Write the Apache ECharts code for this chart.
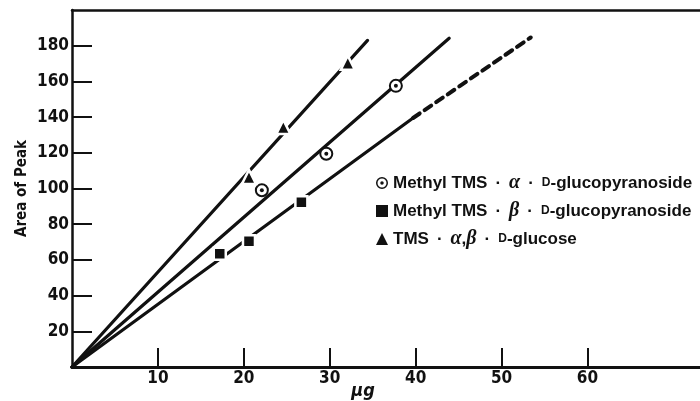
<!DOCTYPE html>
<html>
<head>
<meta charset="utf-8">
<script src="https://cdn.jsdelivr.net/npm/echarts@6/dist/echarts.min.js"></script>
<style>
  html, body { margin: 0; padding: 0; background: #fff; }
  #chart { width: 700px; height: 401px; }
</style>
</head>
<body>
<div id="chart"></div>
<script>
// Tick values
const xTickValues = [10, 20, 30, 40, 50, 60];
const yTickValues = [20, 40, 60, 80, 100, 120, 140, 160, 180];

// Legend names
const alphaName = "Methyl TMS · α · D-glucopyranoside";
const betaName = "Methyl TMS · β · D-glucopyranoside";
const glucoseName = "TMS · α,β · D-glucose";

// Measured points [µg, area]
const alphaPoints = [[22.1, 99], [29.6, 119.5], [37.7, 157.5]];
const betaPoints = [[17.2, 63.5], [20.6, 70.5], [26.7, 92.3]];
const glucosePoints = [[20.6, 106.5], [24.6, 134.5], [32.1, 170.5]];

// Calibration lines
const alphaFit = [[0, 0], [43.9, 184.2]];
const betaFit = [[0, 0], [39.7, 139.5]];
const betaFitExtended = [[39.7, 139.5], [53.4, 184.6]];
const glucoseFit = [[0, 0], [34.4, 183]];

const narrow = "'DejaVu Sans Condensed', 'Liberation Sans Narrow', sans-serif";
const ink = "#111";

// Funzione per una linea di calibrazione
function fitLine(data, dashed) {
  return {
    type: "line",
    data,
    symbol: "none",
    silent: true,
    z: 2,
    lineStyle: { color: ink, width: dashed ? 4 : 3.2, type: dashed ? [8, 6] : "solid", cap: "round" }
  };
}

const ringDot = "path://M12,0A12,12,0,1,1,11.99,0Z M12,3A9,9,0,1,0,12.01,3Z M12,8.5A3.5,3.5,0,1,1,11.99,8.5Z";

const chart = echarts.init(document.getElementById("chart"));
chart.setOption({
  animation: false,
  grid: { left: 72, right: 0, top: 10, bottom: 34, outerBoundsMode: "none" },
  legend: {
    orient: "vertical",
    left: 371,
    top: 168,
    itemWidth: 12,
    itemHeight: 12,
    itemGap: 8,
    itemStyle: { borderWidth: 0 },
    data: [
      { name: alphaName, icon: ringDot, itemStyle: { color: ink, borderWidth: 0, opacity: 1 } },
      { name: betaName, icon: "rect", itemStyle: { color: ink, borderWidth: 0, opacity: 1 } },
      { name: glucoseName, icon: "triangle", itemStyle: { color: ink, borderWidth: 0, opacity: 1 } }
    ],
    formatter: name => name
      .replace(/([αβ])/g, "{g|$1}")
      .replace(/ · /g, "{d|·}")
      .replace("{d|·}D-", "{d|·}{s|D}-"),
    textStyle: {
      color: ink,
      fontFamily: "'Liberation Sans', Arial, sans-serif",
      fontWeight: "bold",
      fontSize: 17,
      lineHeight: 19,
      rich: {
        g: { fontFamily: "'Liberation Serif', serif", fontStyle: "italic", fontWeight: "bold", fontSize: 20, color: ink },
        s: { fontFamily: "'Liberation Sans', Arial, sans-serif", fontWeight: "bold", fontSize: 12, color: ink },
        d: { fontFamily: "'Liberation Sans', Arial, sans-serif", fontWeight: "bold", fontSize: 17, color: ink, padding: [0, 8] }
      }
    }
  },
  xAxis: [
    {
      type: "value",
      min: 0,
      max: 73.1,
      interval: 10,
      splitLine: { show: false },
      axisLine: { lineStyle: { color: ink, width: 3 } },
      axisTick: { inside: true, length: 19, customValues: xTickValues, lineStyle: { color: ink, width: 2 } },
      axisLabel: {
        customValues: xTickValues,
        margin: 3,
        color: ink,
        fontFamily: narrow,
        fontWeight: "bold",
        fontSize: 17
      },
      name: "μg",
      nameLocation: "middle",
      nameGap: 15,
      nameMoveOverlap: false,
      nameTextStyle: {
        color: ink,
        fontFamily: narrow,
        fontWeight: "bold",
        fontStyle: "italic",
        fontSize: 18,
        padding: [0, 46, 0, 0]
      }
    },
    {
      type: "value",
      position: "top",
      min: 0,
      max: 73.1,
      splitLine: { show: false },
      axisLine: { lineStyle: { color: ink, width: 2.5 } },
      axisTick: { show: false },
      axisLabel: { show: false }
    }
  ],
  yAxis: {
    type: "value",
    min: 0,
    max: 200,
    interval: 20,
    splitLine: { show: false },
    axisLine: { lineStyle: { color: ink, width: 2.5 } },
    axisTick: { inside: true, length: 20, customValues: yTickValues, lineStyle: { color: ink, width: 2 } },
    axisLabel: {
      customValues: yTickValues,
      margin: 3,
      color: ink,
      fontFamily: narrow,
      fontWeight: "bold",
      fontSize: 17
    },
    name: "Area of Peak",
    nameLocation: "middle",
    nameGap: 42,
    nameMoveOverlap: false,
    nameTextStyle: { color: ink, fontFamily: narrow, fontWeight: "bold", fontSize: 15 }
  },
  series: [
    fitLine(alphaFit, false),
    fitLine(betaFit, false),
    fitLine(betaFitExtended, true),
    fitLine(glucoseFit, false),
    {
      name: alphaName,
      type: "scatter",
      data: alphaPoints,
      symbol: "circle",
      symbolSize: 12,
      z: 3,
      itemStyle: { color: "#fff", borderColor: ink, borderWidth: 2, opacity: 1 }
    },
    {
      type: "scatter",
      data: alphaPoints,
      symbol: "circle",
      symbolSize: 4,
      silent: true,
      z: 4,
      itemStyle: { color: ink, opacity: 1 }
    },
    {
      name: betaName,
      type: "scatter",
      data: betaPoints,
      symbol: "rect",
      symbolSize: 12,
      z: 3,
      itemStyle: { color: ink, borderColor: "#fff", borderWidth: 2.5, opacity: 1 }
    },
    {
      name: glucoseName,
      type: "scatter",
      data: glucosePoints,
      symbol: "triangle",
      symbolSize: 14,
      z: 3,
      itemStyle: { color: ink, borderColor: "#fff", borderWidth: 2.5, opacity: 1 }
    }
  ]
});
</script>
</body>
</html>
